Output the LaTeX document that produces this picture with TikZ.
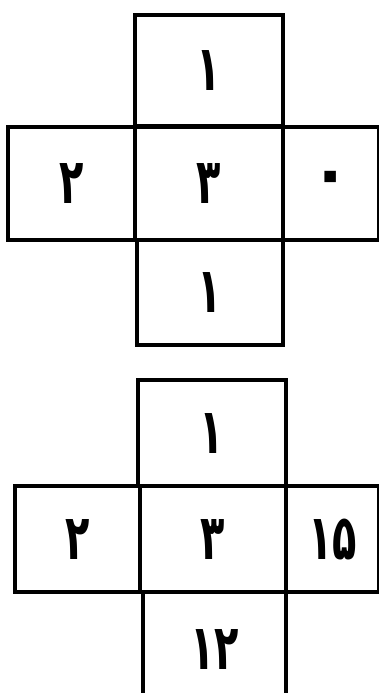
\documentclass[tikz,border=0pt]{standalone}
\usepackage{fontspec}
\newfontfamily\fa[Script=Arabic]{DejaVu Sans}
\newcommand{\dgt}[1]{\scalebox{0.95}[1.5]{#1}}
\begin{document}
\begin{tikzpicture}[x=1pt,y=-1pt,
  cell/.style={draw=black, line width=4.5pt, inner sep=0pt, outer sep=0pt, font=\fa\bfseries\fontsize{42}{42}\selectfont},
  cellbox/.style 2 args={cell, minimum width=#1pt, minimum height=#2pt}]
\useasboundingbox[fill=white] (0,0) rectangle (379,693);
% top cross
\node[cellbox={148}{111}] (a1) at (209,70.5) {\dgt{۱}};
\node[cellbox={127}{113}] (a2) at (71.5,183.5) {\dgt{۲}};
\node[cellbox={148}{113}] (a3) at (209,183.5) {\dgt{۳}};
\node[cellbox={96}{113}]  (a4) at (331,183.5) {\fontsize{66}{66}\selectfont ۰};
\node[cellbox={146}{105}] (a5) at (210,292.5) {\dgt{۱}};
% bottom cross
\node[cellbox={148}{106}] (b1) at (212,433) {\dgt{۱}};
\node[cellbox={125}{106}] (b2) at (77.5,539) {\dgt{۲}};
\node[cellbox={146}{106}] (b3) at (213,539) {\dgt{۳}};
\node[cellbox={93}{106}]  (b4) at (332.5,539) {\dgt{۱۵}};
\node[cellbox={143}{115}] (b5) at (214.5,649.5) {\dgt{۱۲}};
\end{tikzpicture}
\end{document}
